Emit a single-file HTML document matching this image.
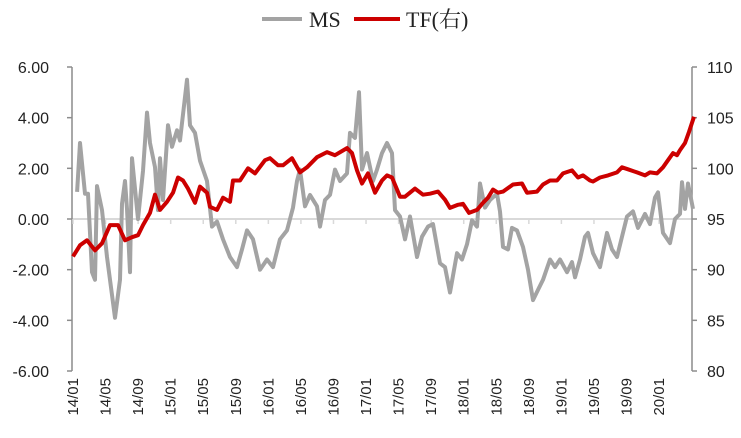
<!DOCTYPE html>
<html><head><meta charset="utf-8"><style>
html,body{margin:0;padding:0;background:#fff;}
svg{display:block;font-family:"Liberation Serif","Noto Serif CJK SC",serif;}
</style></head><body>
<svg id="chart" width="741" height="438" viewBox="0 0 741 438">
<g id="legend">
<line x1="262" y1="19" x2="302" y2="19" stroke="#a3a3a3" stroke-width="4"/>
<text x="309" y="27" font-size="22" fill="#222">MS</text>
<line x1="354" y1="19" x2="400" y2="19" stroke="#cc0000" stroke-width="4"/>
<text x="406" y="27" font-size="22" fill="#222">TF(右)</text>
</g>
<g id="axes"></g>
<g id="series"></g>
</svg>
<script>
const xTickLabels=["14/01","14/05","14/09","15/01","15/05","15/09","16/01","16/05","16/09","17/01","17/05","17/09","18/01","18/05","18/09","19/01","19/05","19/09","20/01"];
const leftTicks=[6,4,2,0,-2,-4,-6];
const rightTicks=[110,105,100,95,90,85,80];
const msMonths=[0.5,0.86,1.47,1.84,2.33,2.7,2.95,3.56,4.18,5.16,5.77,6.02,6.39,6.63,7.0,7.25,7.99,8.6,9.09,9.46,10.07,10.44,10.69,11.06,11.67,12.16,12.78,13.14,14.0,14.37,14.99,15.6,16.46,17.08,17.69,18.43,19.29,20.15,20.76,21.38,22.11,22.97,23.83,24.57,25.43,26.29,27.03,27.52,27.89,28.5,29.12,29.98,30.34,30.96,31.57,32.19,32.8,33.66,34.03,34.64,35.14,35.5,36.12,36.86,37.35,37.96,38.57,39.19,39.56,40.17,40.79,41.4,42.26,42.87,43.61,44.23,45.09,45.7,46.31,47.17,47.79,48.4,49.02,49.63,50.0,50.61,51.23,52.09,52.46,52.83,53.44,53.93,54.55,55.28,55.9,56.51,57.13,57.74,58.6,59.21,59.83,60.69,61.3,61.67,62.29,62.9,63.27,63.88,64.74,65.6,66.22,66.83,67.44,68.06,68.8,69.41,70.27,70.88,71.5,71.87,72.48,73.34,73.96,74.57,74.82,75.18,75.55,76.17];
const msValues=[1.07,3.0,1.0,1.0,-2.1,-2.4,1.3,0.35,-1.5,-3.9,-2.4,0.6,1.5,0.4,-2.1,2.4,0,1.9,4.2,3.0,2.05,0.35,2.4,0.75,3.7,2.85,3.5,3.1,5.5,3.7,3.4,2.3,1.5,-0.3,-0.1,-0.8,-1.5,-1.9,-1.2,-0.45,-0.8,-2.0,-1.6,-1.9,-0.8,-0.45,0.45,1.5,1.95,0.5,0.95,0.5,-0.3,0.75,0.95,1.95,1.5,1.8,3.4,3.2,5.0,1.95,2.6,1.5,1.95,2.6,3.0,2.6,0.35,0.1,-0.8,0.1,-1.5,-0.7,-0.3,-0.2,-1.75,-1.9,-2.9,-1.35,-1.6,-1.0,-0.05,-0.3,1.4,0.45,0.75,1.0,0.3,-1.1,-1.2,-0.35,-0.45,-1.1,-2.0,-3.2,-2.8,-2.4,-1.6,-1.9,-1.6,-2.1,-1.7,-2.3,-1.6,-0.7,-0.55,-1.35,-1.9,-0.55,-1.2,-1.5,-0.7,0.1,0.3,-0.35,0.2,-0.2,0.85,1.05,-0.55,-0.95,0,0.2,1.45,0.4,1.4,0.4];
const tfMonths=[0,0.86,1.72,2.7,3.56,4.55,5.53,6.39,7.25,7.99,8.6,9.46,10.07,10.69,11.55,12.29,12.9,13.51,14.13,14.99,15.6,16.46,16.83,17.69,18.43,19.29,19.66,20.52,21.5,22.36,23.59,24.2,25.18,25.8,26.9,27.89,28.75,29.98,31.2,32.19,33.66,34.27,34.89,35.5,36.24,37.1,37.96,38.57,39.19,40.17,40.79,42.01,43.0,43.86,44.84,45.7,46.31,47.3,47.91,48.65,49.63,50.37,50.98,51.6,52.21,52.83,54.05,55.16,55.77,57.0,57.74,58.6,59.46,60.2,61.3,62.04,62.65,63.51,63.88,64.74,65.72,66.83,67.44,68.18,69.29,70.27,70.88,71.74,72.48,73.1,73.71,74.2,74.57,75.18,75.68,76.29];
const tfValues=[91.3,92.4,92.9,91.9,92.6,94.4,94.4,92.9,93.2,93.4,94.4,95.6,97.4,95.9,96.7,97.6,99.1,98.8,98.0,96.6,98.2,97.6,96.2,95.9,97.1,96.7,98.8,98.8,100.0,99.5,100.8,101.0,100.3,100.3,101.0,99.6,100.1,101.1,101.6,101.3,102.0,101.5,99.8,98.5,99.5,97.6,98.8,99.3,99.1,97.2,97.2,98.0,97.4,97.5,97.7,96.9,96.1,96.4,96.5,95.6,95.9,96.6,97.1,97.9,97.6,97.7,98.4,98.5,97.6,97.7,98.4,98.8,98.8,99.5,99.8,99.1,99.3,98.8,98.7,99.1,99.3,99.6,100.1,99.9,99.6,99.3,99.6,99.5,100.1,100.8,101.5,101.3,101.8,102.5,103.6,105.1];

const NS="http://www.w3.org/2000/svg";
const X0=73, PXM=8.14, YT=67, YB=371;
function xs(m){return X0+m*PXM;}
function yl(v){return YT+(6-v)*(YB-YT)/12;}
function yr(v){return YT+(110-v)*(YB-YT)/30;}
function mk(tag,attrs,parent){const e=document.createElementNS(NS,tag);for(const k in attrs)e.setAttribute(k,attrs[k]);parent.appendChild(e);return e;}
const axes=document.getElementById('axes'), series=document.getElementById('series');
let e;
e=mk('line',{x1:72,y1:yl(0),x2:692,y2:yl(0),stroke:'#d9d9d9','stroke-width':2},axes);


e=mk('line',{x1:72,y1:YT,x2:72,y2:YB,stroke:'#8c8c8c','stroke-width':1.5},axes);


e=mk('line',{x1:692,y1:YT,x2:692,y2:YB,stroke:'#8c8c8c','stroke-width':1.5},axes);


leftTicks.forEach(v=>{
  const y=yl(v);
  let t=mk('line',{x1:67,y1:y,x2:72,y2:y,stroke:'#8c8c8c','stroke-width':1.5},axes);
  
  
  let tx=mk('text',{x:49,y:y+6,'text-anchor':'end','font-size':16,fill:'#222','font-family':'Liberation Sans, sans-serif'},axes);
  tx.textContent=v.toFixed(2);
  
  
});
rightTicks.forEach(v=>{
  const y=yr(v);
  let t=mk('line',{x1:692,y1:y,x2:697,y2:y,stroke:'#8c8c8c','stroke-width':1.5},axes);
  
  
  let tx=mk('text',{x:707,y:y+6,'font-size':16,fill:'#222','font-family':'Liberation Sans, sans-serif'},axes);
  tx.textContent=v;
  
  
});
xTickLabels.forEach((lab,i)=>{
  const x=xs(i*4);
  let t=mk('line',{x1:x,y1:yl(0),x2:x,y2:yl(0)+5,stroke:'#d9d9d9','stroke-width':1.5},axes);
  
  
  let tx=mk('text',{x:0,y:0,'text-anchor':'end','font-size':15,fill:'#222','font-family':'Liberation Sans, sans-serif',transform:`translate(${x+5},378) rotate(-90)`},axes);
  tx.textContent=lab;
  
  
});
let d=msMonths.map((m,i)=>(i?'L':'M')+xs(m).toFixed(1)+','+yl(msValues[i]).toFixed(1)).join('');
e=mk('path',{d:d,fill:'none',stroke:'#a3a3a3','stroke-width':4,'stroke-linejoin':'round'},series);


d=tfMonths.map((m,i)=>(i?'L':'M')+xs(m).toFixed(1)+','+yr(tfValues[i]).toFixed(1)).join('');
e=mk('path',{d:d,fill:'none',stroke:'#cc0000','stroke-width':4,'stroke-linejoin':'round'},series);


</script>
</body></html>
